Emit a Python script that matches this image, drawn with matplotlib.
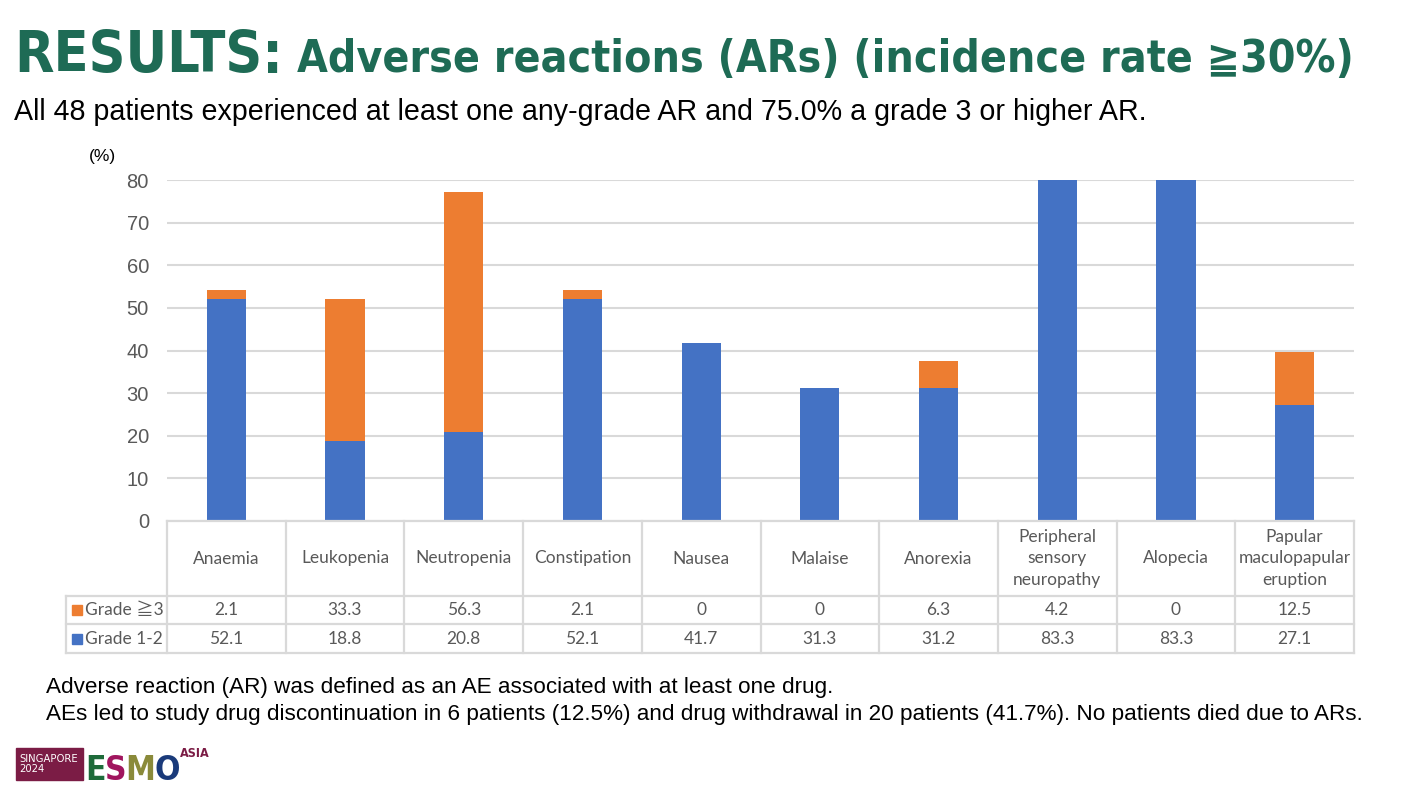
import numpy as np
import matplotlib.pyplot as plt
from matplotlib.patches import Rectangle

categories = ["Anaemia", "Leukopenia", "Neutropenia", "Constipation", "Nausea",
              "Malaise", "Anorexia", "Peripheral\nsensory\nneuropathy", "Alopecia",
              "Papular\nmaculopapular\neruption"]
grade12 = [52.1, 18.8, 20.8, 52.1, 41.7, 31.3, 31.2, 83.3, 83.3, 27.1]
grade3 = [2.1, 33.3, 56.3, 2.1, 0, 0, 6.3, 4.2, 0, 12.5]
grade3_labels = ["2.1", "33.3", "56.3", "2.1", "0", "0", "6.3", "4.2", "0", "12.5"]
grade12_labels = ["52.1", "18.8", "20.8", "52.1", "41.7", "31.3", "31.2", "83.3", "83.3", "27.1"]
yticks = [0, 10, 20, 30, 40, 50, 60, 70, 80]

W, H = 1402, 796
BLUE = "#4472C4"
ORANGE = "#ED7D31"
GREEN = "#1E6B55"
GRID = "#D9D9D9"
TXT = "#595959"
TFONT = ["Lato", "Noto Sans CJK JP", "DejaVu Sans"]
CFONT = ["DejaVu Sans", "Noto Sans CJK JP"]


def fx(x):
    return x / W


def fy(y):
    return 1 - y / H


fig = plt.figure(figsize=(W / 100, H / 100), dpi=100)
r = fig.canvas.get_renderer()


def fit(t, width):
    # shrink or grow a text so that it spans the given pixel width
    w = t.get_window_extent(renderer=r).width
    t.set_fontsize(t.get_fontsize() * width / w)
    return t


# main bar chart
ax = fig.add_axes([fx(167), fy(521), fx(1354) - fx(167), fy(180) - fy(521)])
x = np.arange(len(categories))
ax.bar(x, grade12, width=0.33, color=BLUE, zorder=3)
ax.bar(x, grade3, width=0.33, bottom=grade12, color=ORANGE, zorder=3)
ax.set_xlim(-0.5, len(categories) - 0.5)
ax.set_ylim(0, 80)
ax.set_yticks(yticks)
ax.set_yticklabels([str(t) for t in yticks], fontsize=14.5, color=TXT, family="Liberation Sans")
ax.tick_params(axis="y", length=0, pad=13)
ax.set_xticks([])
ax.grid(axis="y", color=GRID, lw=1.5, zorder=0)
for s in ax.spines.values():
    s.set_visible(False)
fig.text(fx(89), fy(157), "(%)", fontsize=12.5, family="Liberation Sans", va="center")

# data table below
tb = fig.add_axes([fx(167), fy(653), fx(1354) - fx(167), fy(521) - fy(653)])
tb.set_xlim(-0.5, len(categories) - 0.5)
tb.set_ylim(132, 0)
tb.axis("off")
colw = (1354 - 167) / len(categories)
xl = -0.5 - 101 / colw
lk = dict(color=GRID, lw=1.6, clip_on=False)
tb.plot([-0.5, 9.5], [0, 0], **lk)
for yy in [75, 103, 132]:
    tb.plot([xl, 9.5], [yy, yy], **lk)
for i in range(len(categories) + 1):
    tb.plot([i - 0.5, i - 0.5], [0, 132], **lk)
tb.plot([xl, xl], [75, 132], **lk)

fs = 12.5
for i, c in enumerate(categories):
    tb.text(i, 37.5, c, ha="center", va="center", fontsize=fs, color=TXT,
            family=TFONT, linespacing=1.45)
    tb.text(i, 89, grade3_labels[i], ha="center", va="center", fontsize=fs,
            color=TXT, family=TFONT)
    tb.text(i, 117.5, grade12_labels[i], ha="center", va="center", fontsize=fs,
            color=TXT, family=TFONT)

sq = 10 / colw
x0 = xl + 6 / colw
tb.add_patch(Rectangle((x0, 84), sq, 10, color=ORANGE, clip_on=False))
tb.add_patch(Rectangle((x0, 112.5), sq, 10, color=BLUE, clip_on=False))
tb.text(x0 + sq + 3 / colw, 89, "Grade ≧3", va="center", fontsize=fs,
        color=TXT, family=TFONT)
tb.text(x0 + sq + 3 / colw, 117.5, "Grade 1-2", va="center", fontsize=fs,
        color=TXT, family=TFONT)

# titles
t1 = fig.text(fx(14), fy(72), "RESULTS:", fontsize=49, fontweight="bold",
              color=GREEN, family=CFONT, fontstretch="condensed", va="baseline")
fit(t1, 269)
t2 = fig.text(fx(297), fy(72), "Adverse reactions (ARs) (incidence rate ≧30%)",
              fontsize=43, fontweight="bold", color=GREEN, family=CFONT,
              fontstretch="condensed", va="baseline")
fit(t2, 1058)
t3 = fig.text(fx(14), fy(120), "All 48 patients experienced at least one any-grade AR and 75.0% a grade 3 or higher AR.",
              fontsize=20.5, family="Liberation Sans", va="baseline")
fit(t3, 1133)

f1 = fig.text(fx(46), fy(693), "Adverse reaction (AR) was defined as an AE associated with at least one drug.",
              fontsize=16, family="Liberation Sans", va="baseline")
fit(f1, 785)
f2 = fig.text(fx(46), fy(720), "AEs led to study drug discontinuation in 6 patients (12.5%) and drug withdrawal in 20 patients (41.7%). No patients died due to ARs.",
              fontsize=16, family="Liberation Sans", va="baseline")
fit(f2, 1315)

# conference logo
fig.patches.append(Rectangle((fx(16), fy(780)), fx(83) - fx(16), fy(748) - fy(780),
                             color="#7B1C45", transform=fig.transFigure))
fig.text(fx(19), fy(764), "SINGAPORE\n2024", fontsize=8, color="white",
         family=CFONT, fontstretch="condensed", va="center", linespacing=0.95)
lx = 85
for ch, col in zip("ESMO", ["#1E6B3A", "#A0155E", "#8A8A3A", "#1A3A7A"]):
    t = fig.text(fx(lx), fy(780), ch, fontsize=24, fontweight="bold", color=col,
                 family=CFONT, fontstretch="condensed", va="baseline")
    lx = t.get_window_extent(renderer=r).x1 - 1
fig.text(fx(lx + 1), fy(757), "ASIA", fontsize=9, fontweight="bold", color="#7B1C45",
         family=CFONT, fontstretch="condensed", va="baseline")

fig.savefig("out.png", dpi=100)
